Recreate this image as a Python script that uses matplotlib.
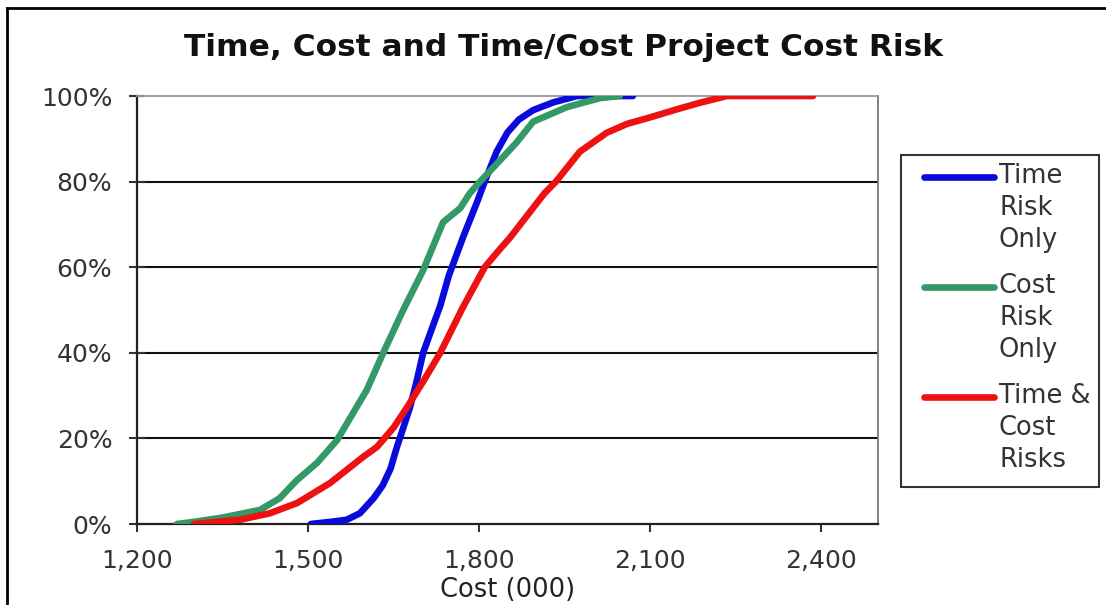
import numpy as np
import matplotlib
matplotlib.use("Agg")
import matplotlib.pyplot as plt
from matplotlib.lines import Line2D
from matplotlib.patches import Rectangle
from matplotlib.ticker import FuncFormatter, PercentFormatter

# cumulative probability (%) against project cost (000)
time_cost = [1505, 1540, 1568, 1591, 1615, 1631, 1645, 1656, 1666, 1679, 1690,
             1702, 1717, 1732, 1747, 1772, 1796, 1810, 1831, 1850, 1870, 1895,
             1930, 1972, 2070]
time_pct = [0, 0.5, 1, 2.5, 6, 9, 13, 18, 22, 27.3, 33,
            40, 45.5, 51, 58, 67, 75, 80, 87, 91.5, 94.5, 96.7,
            98.5, 100, 100]

cost_cost = [1270, 1300, 1350, 1416, 1450, 1481, 1516, 1551, 1575, 1603, 1632,
             1667, 1702, 1726, 1737, 1767, 1784, 1802, 1837, 1865, 1895, 1954,
             2012, 2047]
cost_pct = [0, 0.5, 1.5, 3.3, 6, 10.3, 14.3, 19.6, 25, 31.3, 40,
            50, 59.3, 67, 70.5, 73.8, 77.3, 80, 85, 89, 94, 97.4,
            99.5, 100]

both_cost = [1300, 1340, 1381, 1433, 1481, 1539, 1596, 1621, 1650, 1674, 1703,
             1732, 1772, 1810, 1832, 1855, 1915, 1935, 1977, 2024, 2060, 2100,
             2150, 2187, 2235, 2300, 2386]
both_pct = [0, 0.5, 1, 2.5, 4.9, 9.6, 15.6, 18, 22.5, 27.3, 33.5,
            40, 50.7, 60, 63.5, 67, 77.3, 80, 87, 91.4, 93.5, 95,
            97, 98.4, 100, 100, 100]

labels = ["Time\nRisk\nOnly", "Cost\nRisk\nOnly", "Time &\nCost\nRisks"]
colors = ["#0a0adc", "#339966", "#ee1111"]
x_ticks = [1200, 1500, 1800, 2100, 2400]
y_ticks = [0, 20, 40, 60, 80, 100]

W, H = 1106, 605
plt.rcParams['font.family'] = ['DejaVu Sans']

fig = plt.figure(figsize=(W / 100, H / 100), dpi=100)
fx = lambda px: px / W
fy = lambda py: 1 - py / H

ax = fig.add_axes([fx(137), fy(524), fx(878) - fx(137), fy(96) - fy(524)])

series = [(time_cost, time_pct), (cost_cost, cost_pct), (both_cost, both_pct)]
for (xs, ys), c in zip(series, colors):
    ax.plot(xs, ys, color=c, lw=4.8, solid_capstyle='round',
            solid_joinstyle='round', zorder=3)

ax.set_xlim(1200, 2500)
ax.set_ylim(0, 100)
ax.set_xticks(x_ticks)
ax.set_yticks(y_ticks)
ax.xaxis.set_major_formatter(FuncFormatter(lambda v, p: f"{int(v):,}"))
ax.yaxis.set_major_formatter(PercentFormatter(100, decimals=0))

for y in y_ticks[1:-1]:
    ax.axhline(y, color="#111111", lw=1.5, zorder=1)

ax.tick_params(axis='y', direction='inout', length=11.5, width=1.5,
               pad=12, labelsize=18, colors="#333333")
ax.tick_params(axis='x', direction='out', length=6, width=1.5,
               pad=12, labelsize=18, colors="#333333")

ax.spines['left'].set_color("#222222")
ax.spines['left'].set_linewidth(1.6)
ax.spines['bottom'].set_color("#222222")
ax.spines['bottom'].set_linewidth(1.6)
ax.spines['top'].set_color("#999999")
ax.spines['top'].set_linewidth(1.3)
ax.spines['right'].set_color("#777777")
ax.spines['right'].set_linewidth(1.3)

ax.set_xlabel("Cost (000)", fontsize=18.5, color="#222222")
ax.xaxis.set_label_coords(0.5, (524 - 590) / 428)
ax.xaxis.label.set_va('center')

fig.text(fx(564), fy(48), "Time, Cost and Time/Cost Project Cost Risk",
         ha='center', va='center', fontsize=22.5, fontweight='bold',
         color="#111111")

# legend box on the right
fig.add_artist(Rectangle((fx(901), fy(487)), fx(1099) - fx(901), fy(155) - fy(487),
                         transform=fig.transFigure, fill=False,
                         edgecolor="#333333", lw=1.5))
for i, (lab, c) in enumerate(zip(labels, colors)):
    y0 = 177 + i * 110
    fig.add_artist(Line2D([fx(924), fx(994)], [fy(y0), fy(y0)],
                          transform=fig.transFigure, color=c, lw=4.8,
                          solid_capstyle='round'))
    fig.text(fx(999), fy(y0 - 14), lab, ha='left', va='top', fontsize=18.5,
             color="#333333", linespacing=1.3)

# outer frame (top and left edges)
fig.add_artist(Line2D([fx(7), fx(W)], [fy(8), fy(8)], transform=fig.transFigure,
                      color="black", lw=2))
fig.add_artist(Line2D([fx(7), fx(7)], [fy(8), fy(H)], transform=fig.transFigure,
                      color="black", lw=2))

fig.savefig("out.png", dpi=100, facecolor="white")
